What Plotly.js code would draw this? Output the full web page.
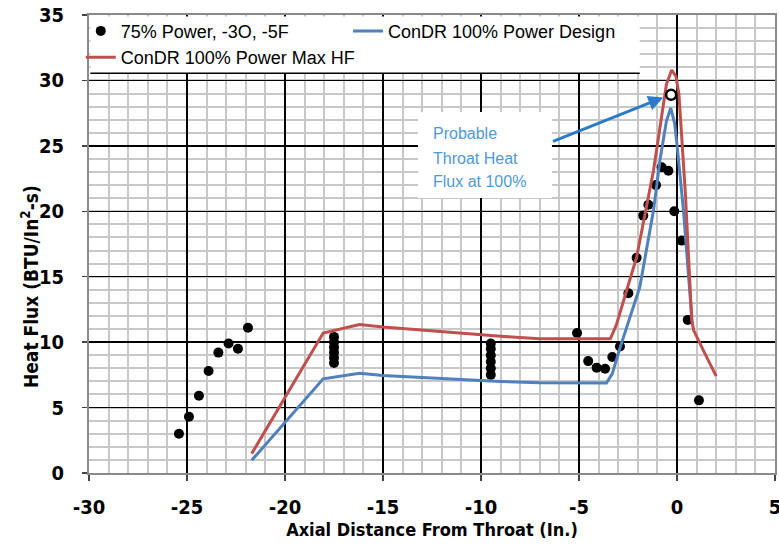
<!DOCTYPE html>
<html>
<head>
<meta charset="utf-8">
<script src="https://cdn.plot.ly/plotly-3.0.1.min.js"></script>
<style>html,body{margin:0;padding:0;background:#fff;}#chart{width:779px;height:546px;}</style>
</head>
<body>
<div id="chart"></div>
<script>
// Measured data: 75% Power, -3O, -5F
const testX = [-25.41, -24.9, -24.39, -23.9, -23.4, -22.88, -22.4, -21.89,
  -17.5, -17.5, -17.5, -17.5, -17.5, -17.5,
  -9.5, -9.5, -9.5, -9.5, -9.5, -9.5,
  -5.1, -4.53, -4.1, -3.67, -3.3, -2.91, -2.48, -2.06, -1.72, -1.46, -1.07, -0.78, -0.44, -0.14, 0.24, 0.55, 1.12];
const testY = [3.0, 4.3, 5.9, 7.8, 9.2, 9.9, 9.5, 11.1,
  8.4, 8.8, 9.2, 9.6, 10.0, 10.4,
  7.5, 8.0, 8.5, 9.0, 9.5, 9.9,
  10.7, 8.55, 8.05, 7.97, 8.86, 9.67, 13.74, 16.44, 19.67, 20.5, 22.0, 23.36, 23.1, 20.0, 17.76, 11.7, 5.55];

// ConDR 100% Power Design
const designX = [-21.7, -18.05, -16.2, -15.0, -9.0, -7.0, -3.6, -3.3, -2.9, -1.9, -1.2, -0.87, -0.54, -0.32, -0.12, 0.0, 0.33, 0.78];
const designY = [0.97, 7.2, 7.63, 7.46, 7.0, 6.9, 6.87, 7.6, 9.6, 14.2, 20.05, 23.9, 26.9, 27.9, 26.7, 25.1, 20.05, 11.4];

// ConDR 100% Power Max HF
const maxX = [-21.7, -18.05, -16.2, -15.0, -9.0, -7.0, -3.4, -3.1, -2.06, -1.2, -0.87, -0.54, -0.27, -0.05, 0.1, 0.43, 0.75, 0.85, 1.3, 2.0];
const maxY = [1.48, 10.7, 11.35, 11.15, 10.45, 10.25, 10.25, 11.3, 16.5, 23.1, 26.4, 29.7, 30.8, 30.3, 28.9, 21.3, 11.7, 10.9, 9.5, 7.4];

// Probable throat heat flux at 100%
const probX = [-0.3];
const probY = [28.9];

// Axis ticks
const xTickVals = [-30, -25, -20, -15, -10, -5, 0, 5];
const xTickText = ['-30', '-25', '-20', '-15', '-10', '-5', '0', '5'];
const yTickVals = [0, 5, 10, 15, 20, 25, 30, 35];
const yTickText = ['0', '5', '10', '15', '20', '25', '30', '35'];

const names = ['75% Power, -3O, -5F', 'ConDR 100% Power Design', 'ConDR 100% Power Max HF'];
const annotLines = ['Probable', 'Throat Heat', 'Flux at 100%'];
const xTitle = 'Axial Distance From Throat (In.)';
const yTitle = 'Heat Flux (BTU/In<sup>2</sup>-s)';

const boldFont = {family: 'DejaVu Sans Condensed, DejaVu Sans, sans-serif', weight: 'bold', color: '#000'};
const textFont = {family: 'Liberation Sans, Arial, sans-serif', size: 16, color: '#4f9ad6'};
const legFont = {family: 'Liberation Sans, Arial, sans-serif', size: 18, color: '#000'};

const traces = [
  {x: testX, y: testY, type: 'scatter', mode: 'markers', name: names[0], legend: 'legend',
   marker: {color: '#000', size: 10, symbol: 'circle'}},
  {x: designX, y: designY, type: 'scatter', mode: 'lines', name: names[1], legend: 'legend2',
   line: {color: '#4f81bd', width: 3}},
  {x: maxX, y: maxY, type: 'scatter', mode: 'lines', name: names[2], legend: 'legend',
   line: {color: '#c0504d', width: 3}},
  {x: probX, y: probY, type: 'scatter', mode: 'markers', showlegend: false,
   marker: {color: '#fff', size: 10, symbol: 'circle', line: {color: '#000', width: 2.5}}}
];

const annotations = [
  {xref: 'x', yref: 'y', x: -0.7, y: 28.7, ax: -6.4, ay: 25.3, axref: 'x', ayref: 'y',
   text: '', showarrow: true, arrowhead: 2, arrowsize: 1, arrowwidth: 3, arrowcolor: '#2a7cc8'},
  {xref: 'paper', yref: 'paper', x: -0.086, y: 0.406, xanchor: 'center', yanchor: 'middle',
   text: yTitle, textangle: -90, showarrow: false,
   font: Object.assign({size: 19}, boldFont)}
];
const lineYs = [25.98, 24.07, 22.24];
annotLines.forEach(function (t, i) {
  annotations.push({xref: 'x', yref: 'y', x: -12.55, y: lineYs[i], xanchor: 'left', yanchor: 'middle',
    text: t, showarrow: false, font: textFont});
});

const layout = {
  width: 779, height: 546,
  margin: {l: 89, r: 4, t: 15, b: 73},
  paper_bgcolor: '#fff', plot_bgcolor: '#fff',
  showlegend: true,
  xaxis: {
    range: [-30, 5], tickmode: 'array', tickvals: xTickVals, ticktext: xTickText,
    showgrid: true, gridcolor: '#000', gridwidth: 1.5,
    minor: {dtick: 1, tick0: 0, showgrid: true, gridcolor: '#c8c8c8', gridwidth: 2},
    zeroline: false,
    showline: true, linecolor: '#8a8a8a', linewidth: 2, mirror: true,
    ticks: 'outside', ticklen: 6, tickcolor: '#444', tickwidth: 1.5,
    ticklabelstandoff: 9, ticklabeloverflow: 'allow',
    tickfont: Object.assign({size: 20}, boldFont),
    title: {text: xTitle, font: Object.assign({size: 18}, boldFont), standoff: 4}
  },
  yaxis: {
    range: [0, 35], tickmode: 'array', tickvals: yTickVals, ticktext: yTickText,
    showgrid: true, gridcolor: '#000', gridwidth: 1.5,
    minor: {dtick: 1, tick0: 0, showgrid: true, gridcolor: '#c8c8c8', gridwidth: 2},
    zeroline: false,
    showline: true, linecolor: '#8a8a8a', linewidth: 2, mirror: true,
    ticks: 'outside', ticklen: 5, tickcolor: '#444', tickwidth: 1.5,
    ticklabelstandoff: 14,
    tickfont: Object.assign({size: 20}, boldFont)
  },
  legend: {
    orientation: 'v', x: -0.012, xanchor: 'left', y: 1.005, yanchor: 'top',
    bgcolor: 'rgba(0,0,0,0)', borderwidth: 0, itemwidth: 30, tracegroupgap: 0,
    traceorder: 'normal', font: legFont
  },
  legend2: {
    orientation: 'v', x: 0.3776, xanchor: 'left', y: 1.005, yanchor: 'top',
    bgcolor: 'rgba(0,0,0,0)', borderwidth: 0, itemwidth: 30,
    font: legFont
  },
  shapes: [
    {type: 'rect', xref: 'x', yref: 'y', x0: -29.93, x1: -1.9, y0: 30.55, y1: 34.88,
     fillcolor: '#fff', line: {width: 0}, layer: 'above'},
    {type: 'line', xref: 'x', yref: 'y', x0: -29.93, x1: -1.9, y0: 30.55, y1: 30.55,
     line: {color: '#000', width: 1.5}, layer: 'above'},
    {type: 'rect', xref: 'x', yref: 'y', x0: -13.21, x1: -6.38, y0: 21.01, y1: 27.59,
     fillcolor: '#fff', line: {width: 0}, layer: 'above'}
  ],
  annotations: annotations
};

Plotly.newPlot('chart', traces, layout, {displayModeBar: false, staticPlot: true});
</script>
</body>
</html>
